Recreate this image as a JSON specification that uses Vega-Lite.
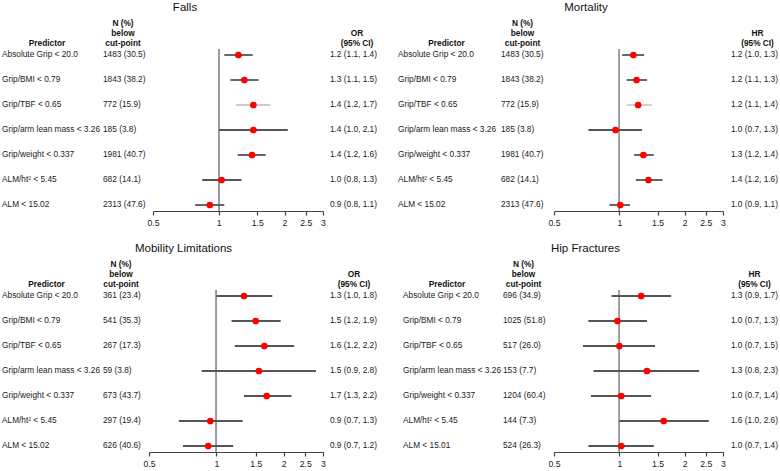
{
  "$schema": "https://vega.github.io/schema/vega-lite/v6.json",
  "autosize": {"type": "pad"},
  "padding": {"left": 2, "top": 2, "right": 0, "bottom": 0},
  "background": "white",
  "datasets": {
    "falls": [
      {"predictor": "Absolute Grip < 20.0", "n": "1483 (30.5)", "est": 1.23, "lo": 1.06, "hi": 1.43, "ci": "1.2 (1.1, 1.4)"},
      {"predictor": "Grip/BMI < 0.79", "n": "1843 (38.2)", "est": 1.31, "lo": 1.13, "hi": 1.52, "ci": "1.3 (1.1, 1.5)"},
      {"predictor": "Grip/TBF < 0.65", "n": "772 (15.9)", "est": 1.44, "lo": 1.2, "hi": 1.72, "ci": "1.4 (1.2, 1.7)"},
      {"predictor": "Grip/arm lean mass < 3.26", "n": "185 (3.8)", "est": 1.44, "lo": 1.0, "hi": 2.07, "ci": "1.4 (1.0, 2.1)"},
      {"predictor": "Grip/weight < 0.337", "n": "1981 (40.7)", "est": 1.42, "lo": 1.22, "hi": 1.64, "ci": "1.4 (1.2, 1.6)"},
      {"predictor": "ALM/ht² < 5.45", "n": "682 (14.1)", "est": 1.03, "lo": 0.84, "hi": 1.27, "ci": "1.0 (0.8, 1.3)"},
      {"predictor": "ALM < 15.02", "n": "2313 (47.6)", "est": 0.91, "lo": 0.78, "hi": 1.06, "ci": "0.9 (0.8, 1.1)"}
    ],
    "mortality": [
      {"predictor": "Absolute Grip < 20.0", "n": "1483 (30.5)", "est": 1.16, "lo": 1.03, "hi": 1.3, "ci": "1.2 (1.0, 1.3)"},
      {"predictor": "Grip/BMI < 0.79", "n": "1843 (38.2)", "est": 1.2, "lo": 1.08, "hi": 1.34, "ci": "1.2 (1.1, 1.3)"},
      {"predictor": "Grip/TBF < 0.65", "n": "772 (15.9)", "est": 1.22, "lo": 1.08, "hi": 1.41, "ci": "1.2 (1.1, 1.4)"},
      {"predictor": "Grip/arm lean mass < 3.26", "n": "185 (3.8)", "est": 0.96, "lo": 0.72, "hi": 1.27, "ci": "1.0 (0.7, 1.3)"},
      {"predictor": "Grip/weight < 0.337", "n": "1981 (40.7)", "est": 1.29, "lo": 1.17, "hi": 1.44, "ci": "1.3 (1.2, 1.4)"},
      {"predictor": "ALM/ht² < 5.45", "n": "682 (14.1)", "est": 1.36, "lo": 1.19, "hi": 1.58, "ci": "1.4 (1.2, 1.6)"},
      {"predictor": "ALM < 15.02", "n": "2313 (47.6)", "est": 1.01, "lo": 0.9, "hi": 1.12, "ci": "1.0 (0.9, 1.1)"}
    ],
    "mobility": [
      {"predictor": "Absolute Grip < 20.0", "n": "361 (23.4)", "est": 1.33, "lo": 1.0, "hi": 1.78, "ci": "1.3 (1.0, 1.8)"},
      {"predictor": "Grip/BMI < 0.79", "n": "541 (35.3)", "est": 1.5, "lo": 1.17, "hi": 1.94, "ci": "1.5 (1.2, 1.9)"},
      {"predictor": "Grip/TBF < 0.65", "n": "267 (17.3)", "est": 1.64, "lo": 1.21, "hi": 2.23, "ci": "1.6 (1.2, 2.2)"},
      {"predictor": "Grip/arm lean mass < 3.26", "n": "59 (3.8)", "est": 1.55, "lo": 0.86, "hi": 2.79, "ci": "1.5 (0.9, 2.8)"},
      {"predictor": "Grip/weight < 0.337", "n": "673 (43.7)", "est": 1.68, "lo": 1.33, "hi": 2.17, "ci": "1.7 (1.3, 2.2)"},
      {"predictor": "ALM/ht² < 5.45", "n": "297 (19.4)", "est": 0.94, "lo": 0.68, "hi": 1.31, "ci": "0.9 (0.7, 1.3)"},
      {"predictor": "ALM < 15.02", "n": "626 (40.6)", "est": 0.92, "lo": 0.71, "hi": 1.19, "ci": "0.9 (0.7, 1.2)"}
    ],
    "hip": [
      {"predictor": "Absolute Grip < 20.0", "n": "696 (34.9)", "est": 1.26, "lo": 0.92, "hi": 1.73, "ci": "1.3 (0.9, 1.7)"},
      {"predictor": "Grip/BMI < 0.79", "n": "1025 (51.8)", "est": 0.98, "lo": 0.72, "hi": 1.34, "ci": "1.0 (0.7, 1.3)"},
      {"predictor": "Grip/TBF < 0.65", "n": "517 (26.0)", "est": 1.0, "lo": 0.68, "hi": 1.46, "ci": "1.0 (0.7, 1.5)"},
      {"predictor": "Grip/arm lean mass < 3.26", "n": "153 (7.7)", "est": 1.34, "lo": 0.76, "hi": 2.33, "ci": "1.3 (0.8, 2.3)"},
      {"predictor": "Grip/weight < 0.337", "n": "1204 (60.4)", "est": 1.02, "lo": 0.74, "hi": 1.4, "ci": "1.0 (0.7, 1.4)"},
      {"predictor": "ALM/ht² < 5.45", "n": "144 (7.3)", "est": 1.6, "lo": 1.0, "hi": 2.58, "ci": "1.6 (1.0, 2.6)"},
      {"predictor": "ALM < 15.01", "n": "524 (26.3)", "est": 1.02, "lo": 0.72, "hi": 1.44, "ci": "1.0 (0.7, 1.4)"}
    ]
  },
  "spacing": 16,
  "vconcat": [
    {
      "spacing": 21,
      "hconcat": [
        {
          "title": {"text": "Falls", "fontSize": 11.5, "fontWeight": "normal", "offset": 5, "dx": -4.5, "anchor": "middle", "color": "#111"},
          "bounds": "flush", "spacing": 0,
          "hconcat": [
            {"width": 101, "height": 162, "data": {"name": "falls"}, "title": {"text": "Predictor", "dx": -5.5},
             "mark": {"type": "text", "align": "left", "baseline": "middle"},
             "encoding": {"x": {"datum": "c", "type": "nominal", "scale": {"type": "band", "paddingInner": 0, "paddingOuter": 0}, "bandPosition": 0, "axis": null},
               "y": {"field": "predictor", "type": "nominal", "sort": null, "scale": {"type": "point", "padding": 0.24}, "axis": null},
               "text": {"field": "predictor"}}},
            {"width": 50, "height": 162, "data": {"name": "falls"}, "title": {"text": ["N (%)", "below", "cut-point"], "dx": -5},
             "mark": {"type": "text", "align": "left", "baseline": "middle"},
             "encoding": {"x": {"datum": "c", "type": "nominal", "scale": {"type": "band", "paddingInner": 0, "paddingOuter": 0}, "bandPosition": 0, "axis": null},
               "y": {"field": "predictor", "type": "nominal", "sort": null, "scale": {"type": "point", "padding": 0.24}, "axis": null},
               "text": {"field": "n"}}},
            {"width": 170, "height": 162, "data": {"name": "falls"},
             "layer": [
               {"mark": {"type": "rule", "color": "#999999", "strokeWidth": 1.2}, "encoding": {"x": {"datum": 1, "type": "quantitative", "title": null}}},
               {"mark": {"type": "rule", "strokeWidth": 1.8},
                "encoding": {"x": {"field": "lo", "type": "quantitative", "title": null, "scale": {"type": "log", "domain": [0.5, 3], "nice": false}, "axis": {"values": [0.5, 1, 1.5, 2, 2.5, 3], "format": "~g"}},
                  "x2": {"field": "hi"},
                  "y": {"field": "predictor", "type": "nominal", "sort": null, "scale": {"type": "point", "padding": 0.24}, "axis": null},
                  "color": {"condition": {"test": "datum.predictor === 'Grip/TBF < 0.65'", "value": "#cccccc"}, "value": "#555555"}}},
               {"mark": {"type": "circle", "color": "#ff0000", "size": 45, "opacity": 1},
                "encoding": {"x": {"field": "est", "type": "quantitative", "title": null},
                  "y": {"field": "predictor", "type": "nominal", "sort": null, "scale": {"type": "point", "padding": 0.24}, "axis": null}}}
             ]},
            {"width": 54, "height": 162, "data": {"name": "falls"}, "title": {"text": ["OR", "(95% CI)"], "dx": 7},
             "mark": {"type": "text", "align": "right", "baseline": "middle"},
             "encoding": {"x": {"datum": "c", "type": "nominal", "scale": {"type": "band", "paddingInner": 0, "paddingOuter": 0}, "bandPosition": 1, "axis": null},
               "y": {"field": "predictor", "type": "nominal", "sort": null, "scale": {"type": "point", "padding": 0.24}, "axis": null},
               "text": {"field": "ci"}}}
          ]
        },
        {
          "title": {"text": "Mortality", "fontSize": 11.5, "fontWeight": "normal", "offset": 5, "dx": -2, "anchor": "middle", "color": "#111"},
          "bounds": "flush", "spacing": 0,
          "hconcat": [
            {"width": 103, "height": 162, "data": {"name": "mortality"}, "title": {"text": "Predictor", "dx": -3},
             "mark": {"type": "text", "align": "left", "baseline": "middle"},
             "encoding": {"x": {"datum": "c", "type": "nominal", "scale": {"type": "band", "paddingInner": 0, "paddingOuter": 0}, "bandPosition": 0, "axis": null},
               "y": {"field": "predictor", "type": "nominal", "sort": null, "scale": {"type": "point", "padding": 0.24}, "axis": null},
               "text": {"field": "predictor"}}},
            {"width": 53, "height": 162, "data": {"name": "mortality"}, "title": {"text": ["N (%)", "below", "cut-point"], "dx": -5},
             "mark": {"type": "text", "align": "left", "baseline": "middle"},
             "encoding": {"x": {"datum": "c", "type": "nominal", "scale": {"type": "band", "paddingInner": 0, "paddingOuter": 0}, "bandPosition": 0, "axis": null},
               "y": {"field": "predictor", "type": "nominal", "sort": null, "scale": {"type": "point", "padding": 0.24}, "axis": null},
               "text": {"field": "n"}}},
            {"width": 169, "height": 162, "data": {"name": "mortality"},
             "layer": [
               {"mark": {"type": "rule", "color": "#999999", "strokeWidth": 1.2}, "encoding": {"x": {"datum": 1, "type": "quantitative", "title": null}}},
               {"mark": {"type": "rule", "strokeWidth": 1.8},
                "encoding": {"x": {"field": "lo", "type": "quantitative", "title": null, "scale": {"type": "log", "domain": [0.5, 3], "nice": false}, "axis": {"values": [0.5, 1, 1.5, 2, 2.5, 3], "format": "~g"}},
                  "x2": {"field": "hi"},
                  "y": {"field": "predictor", "type": "nominal", "sort": null, "scale": {"type": "point", "padding": 0.24}, "axis": null},
                  "color": {"condition": {"test": "datum.predictor === 'Grip/TBF < 0.65'", "value": "#cccccc"}, "value": "#555555"}}},
               {"mark": {"type": "circle", "color": "#ff0000", "size": 45, "opacity": 1},
                "encoding": {"x": {"field": "est", "type": "quantitative", "title": null},
                  "y": {"field": "predictor", "type": "nominal", "sort": null, "scale": {"type": "point", "padding": 0.24}, "axis": null}}}
             ]},
            {"width": 55, "height": 162, "data": {"name": "mortality"}, "title": {"text": ["HR", "(95% CI)"], "dx": 7},
             "mark": {"type": "text", "align": "right", "baseline": "middle"},
             "encoding": {"x": {"datum": "c", "type": "nominal", "scale": {"type": "band", "paddingInner": 0, "paddingOuter": 0}, "bandPosition": 1, "axis": null},
               "y": {"field": "predictor", "type": "nominal", "sort": null, "scale": {"type": "point", "padding": 0.24}, "axis": null},
               "text": {"field": "ci"}}}
          ]
        }
      ]
    },
    {
      "spacing": 26,
      "hconcat": [
        {
          "title": {"text": "Mobility Limitations", "fontSize": 11.5, "fontWeight": "normal", "offset": 5, "dx": -6, "anchor": "middle", "color": "#111"},
          "bounds": "flush", "spacing": 0,
          "hconcat": [
            {"width": 101, "height": 162, "data": {"name": "mobility"}, "title": {"text": "Predictor", "dx": -6},
             "mark": {"type": "text", "align": "left", "baseline": "middle"},
             "encoding": {"x": {"datum": "c", "type": "nominal", "scale": {"type": "band", "paddingInner": 0, "paddingOuter": 0}, "bandPosition": 0, "axis": null},
               "y": {"field": "predictor", "type": "nominal", "sort": null, "scale": {"type": "point", "padding": 0.24}, "axis": null},
               "text": {"field": "predictor"}}},
            {"width": 46, "height": 162, "data": {"name": "mobility"}, "title": {"text": ["N (%)", "below", "cut-point"], "dx": -5},
             "mark": {"type": "text", "align": "left", "baseline": "middle"},
             "encoding": {"x": {"datum": "c", "type": "nominal", "scale": {"type": "band", "paddingInner": 0, "paddingOuter": 0}, "bandPosition": 0, "axis": null},
               "y": {"field": "predictor", "type": "nominal", "sort": null, "scale": {"type": "point", "padding": 0.24}, "axis": null},
               "text": {"field": "n"}}},
            {"width": 174, "height": 162, "data": {"name": "mobility"},
             "layer": [
               {"mark": {"type": "rule", "color": "#999999", "strokeWidth": 1.2}, "encoding": {"x": {"datum": 1, "type": "quantitative", "title": null}}},
               {"mark": {"type": "rule", "strokeWidth": 1.8, "color": "#555555"},
                "encoding": {"x": {"field": "lo", "type": "quantitative", "title": null, "scale": {"type": "log", "domain": [0.5, 3], "nice": false}, "axis": {"values": [0.5, 1, 1.5, 2, 2.5, 3], "format": "~g"}},
                  "x2": {"field": "hi"},
                  "y": {"field": "predictor", "type": "nominal", "sort": null, "scale": {"type": "point", "padding": 0.24}, "axis": null}}},
               {"mark": {"type": "circle", "color": "#ff0000", "size": 45, "opacity": 1},
                "encoding": {"x": {"field": "est", "type": "quantitative", "title": null},
                  "y": {"field": "predictor", "type": "nominal", "sort": null, "scale": {"type": "point", "padding": 0.24}, "axis": null}}}
             ]},
            {"width": 54, "height": 162, "data": {"name": "mobility"}, "title": {"text": ["OR", "(95% CI)"], "dx": 4},
             "mark": {"type": "text", "align": "right", "baseline": "middle"},
             "encoding": {"x": {"datum": "c", "type": "nominal", "scale": {"type": "band", "paddingInner": 0, "paddingOuter": 0}, "bandPosition": 1, "axis": null},
               "y": {"field": "predictor", "type": "nominal", "sort": null, "scale": {"type": "point", "padding": 0.24}, "axis": null},
               "text": {"field": "ci"}}}
          ]
        },
        {
          "title": {"text": "Hip Fractures", "fontSize": 11.5, "fontWeight": "normal", "offset": 5, "dx": -5, "anchor": "middle", "color": "#111"},
          "bounds": "flush", "spacing": 0,
          "hconcat": [
            {"width": 100, "height": 162, "data": {"name": "hip"}, "title": {"text": "Predictor", "dx": -6},
             "mark": {"type": "text", "align": "left", "baseline": "middle"},
             "encoding": {"x": {"datum": "c", "type": "nominal", "scale": {"type": "band", "paddingInner": 0, "paddingOuter": 0}, "bandPosition": 0, "axis": null},
               "y": {"field": "predictor", "type": "nominal", "sort": null, "scale": {"type": "point", "padding": 0.24}, "axis": null},
               "text": {"field": "predictor"}}},
            {"width": 51, "height": 162, "data": {"name": "hip"}, "title": {"text": ["N (%)", "below", "cut-point"], "dx": -5},
             "mark": {"type": "text", "align": "left", "baseline": "middle"},
             "encoding": {"x": {"datum": "c", "type": "nominal", "scale": {"type": "band", "paddingInner": 0, "paddingOuter": 0}, "bandPosition": 0, "axis": null},
               "y": {"field": "predictor", "type": "nominal", "sort": null, "scale": {"type": "point", "padding": 0.24}, "axis": null},
               "text": {"field": "n"}}},
            {"width": 169, "height": 162, "data": {"name": "hip"},
             "layer": [
               {"mark": {"type": "rule", "color": "#999999", "strokeWidth": 1.2}, "encoding": {"x": {"datum": 1, "type": "quantitative", "title": null}}},
               {"mark": {"type": "rule", "strokeWidth": 1.8, "color": "#555555"},
                "encoding": {"x": {"field": "lo", "type": "quantitative", "title": null, "scale": {"type": "log", "domain": [0.5, 3], "nice": false}, "axis": {"values": [0.5, 1, 1.5, 2, 2.5, 3], "format": "~g"}},
                  "x2": {"field": "hi"},
                  "y": {"field": "predictor", "type": "nominal", "sort": null, "scale": {"type": "point", "padding": 0.24}, "axis": null}}},
               {"mark": {"type": "circle", "color": "#ff0000", "size": 45, "opacity": 1},
                "encoding": {"x": {"field": "est", "type": "quantitative", "title": null},
                  "y": {"field": "predictor", "type": "nominal", "sort": null, "scale": {"type": "point", "padding": 0.24}, "axis": null}}}
             ]},
            {"width": 55, "height": 162, "data": {"name": "hip"}, "title": {"text": ["HR", "(95% CI)"], "dx": 4},
             "mark": {"type": "text", "align": "right", "baseline": "middle"},
             "encoding": {"x": {"datum": "c", "type": "nominal", "scale": {"type": "band", "paddingInner": 0, "paddingOuter": 0}, "bandPosition": 1, "axis": null},
               "y": {"field": "predictor", "type": "nominal", "sort": null, "scale": {"type": "point", "padding": 0.24}, "axis": null},
               "text": {"field": "ci"}}}
          ]
        }
      ]
    }
  ],
  "config": {
    "view": {"stroke": null},
    "font": "Liberation Sans",
    "text": {"fontSize": 8.3, "color": "#1a1a1a", "font": "Liberation Sans"},
    "title": {"fontSize": 8.3, "fontWeight": "bold", "color": "#111111", "lineHeight": 10, "offset": 2, "anchor": "middle", "font": "Liberation Sans"},
    "axis": {"grid": false, "domainColor": "#444444", "domainWidth": 1.2, "tickColor": "#444444", "tickWidth": 1.2, "tickSize": 4, "labelFontSize": 8.7, "labelColor": "#1a1a1a", "labelPadding": 3, "labelFlush": false, "labelOverlap": false, "labelFont": "Liberation Sans"}
  }
}
